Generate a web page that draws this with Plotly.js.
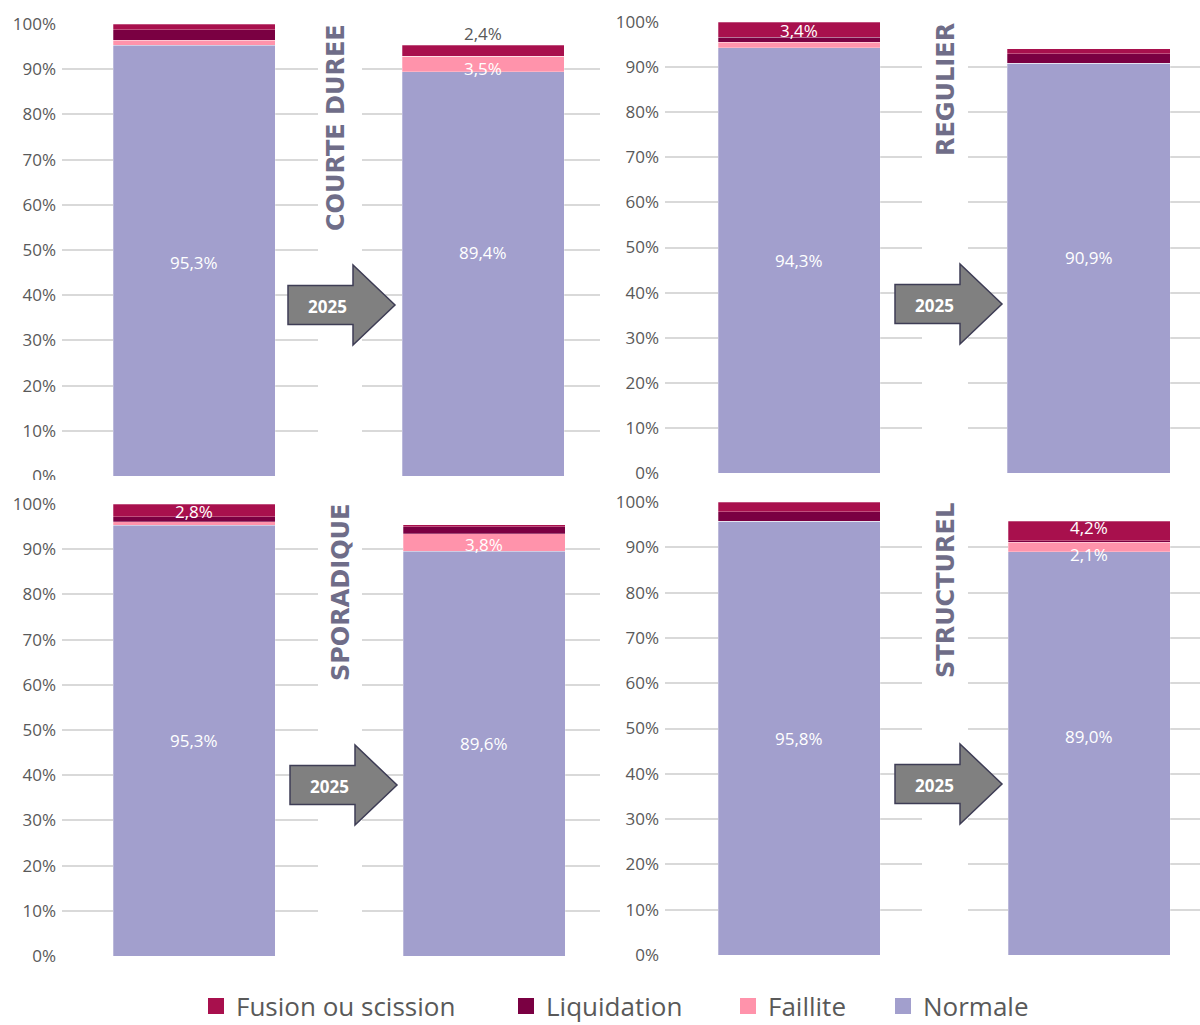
<!DOCTYPE html>
<html>
<head>
<meta charset="utf-8">
<script src="https://cdn.plot.ly/plotly-3.0.1.min.js"></script>
<style>html,body{margin:0;padding:0;background:#fff;overflow:hidden;}#chart{width:1200px;height:1025px;}</style>
</head>
<body>
<div id="chart"></div>
<script>
// ---- DATA ----
const panelTitles = ['COURTE DUREE', 'REGULIER', 'SPORADIQUE', 'STRUCTUREL'];
const arrowLabel = '2025';
const seriesNames = ['Normale', 'Faillite', 'Liquidation', 'Fusion ou scission'];
const legendOrder = ['Fusion ou scission', 'Liquidation', 'Faillite', 'Normale'];
// 8 bars: [panel1 avant, panel1 2025, panel2 avant, panel2 2025, ...]
const normale     = [95.3, 89.4, 94.3, 90.9, 95.3, 89.6, 95.8, 89.0];
const faillite    = [1.1, 3.5, 1.2, 0.0, 0.8, 3.8, 0.0, 2.1];
const liquidation = [2.3, 0.0, 1.1, 2.1, 1.1, 1.6, 2.1, 0.4];
const fusion      = [1.3, 2.4, 3.4, 1.1, 2.8, 0.4, 2.1, 4.2];
// which values carry a data label
const showNormaleLabel  = [true, true, true, true, true, true, true, true];
const showFailliteLabel = [false, true, false, false, false, true, false, true];
const showFusionLabel   = [false, true, true, false, true, false, false, true];
const fusionLabelOutside = [false, true, false, false, false, false, false, false];
const yTicks = [0,10,20,30,40,50,60,70,80,90,100];

// ---- STYLE / LAYOUT CONSTANTS ----
const W = 1200, H = 1025;
const px = x => x / W;
const py = y => 1 - y / H;
const colors = {Normale:'#A29FCD', Faillite:'#FF93AB', Liquidation:'#7A0042', 'Fusion ou scission':'#A8104D'};
const xDomPx = [[62,318],[362,600],[665,922],[968,1200],[62,318],[362,600],[665,922],[968,1200]];
const barPx  = [[113,275],[402,564],[718,880],[1007,1170],[113,275],[403,565],[718,880],[1008,1170]];
const yDomPx = [[24,476],[24,476],[22,473],[22,473],[504,956],[504,956],[502,955],[502,955]];
const normShift = [-2, 21, 0, 11, 0, 10, 0, 17];
const failShift = [0, -4, 0, 0, 0, -2, 0, -7];
const fusShift  = [0, -2, -1, 0, -1, 0, 0, 3];
const titlePos = [[336,128],[946,90],[341,593],[946,591]];
const arrowPos = [[288,305],[895,304],[290,785],[895,784]];
const legendMarkerX = [216, 526, 748, 903];
const font = 'Open Sans, Noto Sans, sans-serif';

const seriesVals = {Normale: normale, Faillite: faillite, Liquidation: liquidation, 'Fusion ou scission': fusion};
const traces = [];
const layout = {
  width: W, height: H,
  margin: {l:0, r:0, t:0, b:0, autoexpand:false},
  paper_bgcolor: '#fff', plot_bgcolor: 'rgba(0,0,0,0)',
  barmode: 'stack',
  showlegend: true,
  annotations: [], shapes: []
};

for (let i = 0; i < 8; i++) {
  const sfx = i === 0 ? '' : String(i + 1);
  const [a, b] = xDomPx[i];
  const [bl, br] = barPx[i];
  const c = (bl + br) / 2;
  const span = b - a;
  const width = (br - bl) / span;
  layout['xaxis' + sfx] = {
    domain: [px(a), px(b)], anchor: 'y' + sfx,
    range: [-(c - a) / span, (b - c) / span],
    showticklabels: false, showgrid: false, zeroline: false, showline: false, ticks: '', fixedrange: true
  };
  layout['yaxis' + sfx] = {
    domain: [py(yDomPx[i][1]), py(yDomPx[i][0])], anchor: 'x' + sfx,
    range: [0, 100], tickvals: yTicks, ticktext: yTicks.map(v => v + '%'),
    showticklabels: i % 2 === 0, ticks: '', ticklabelstandoff: 5,
    tickfont: {family: font, size: 17, color: '#595959'},
    showgrid: true, gridcolor: '#D9D9D9', gridwidth: 2, zeroline: false, showline: false, fixedrange: true
  };
  let base = 0;
  seriesNames.forEach(name => {
    const v = seriesVals[name][i];
    traces.push({
      type: 'bar', x: [0], y: [v], width: [width], name: name,
      xaxis: 'x' + sfx, yaxis: 'y' + sfx,
      marker: {color: colors[name], line: {color: 'rgba(255,255,255,0.45)', width: 0.6}},
      showlegend: false, hoverinfo: 'skip'
    });
    const fmt = v.toFixed(1).replace('.', ',') + '%';
    const mid = base + v / 2;
    if (name === 'Normale' && showNormaleLabel[i]) {
      layout.annotations.push({xref:'x'+sfx, yref:'y'+sfx, x:0, y:mid, text:fmt, showarrow:false,
        xanchor:'center', yanchor:'middle', yshift:normShift[i], font:{family:font, size:17, color:'#FFFFFF'}});
    }
    if (name === 'Faillite' && showFailliteLabel[i]) {
      layout.annotations.push({xref:'x'+sfx, yref:'y'+sfx, x:0, y:mid, text:fmt, showarrow:false,
        xanchor:'center', yanchor:'middle', yshift:failShift[i], font:{family:font, size:17, color:'#FFFFFF'}});
    }
    if (name === 'Fusion ou scission' && showFusionLabel[i]) {
      if (fusionLabelOutside[i]) {
        layout.annotations.push({xref:'x'+sfx, yref:'y'+sfx, x:0, y:base + v, text:fmt, showarrow:false,
          xanchor:'center', yanchor:'bottom', yshift:fusShift[i], font:{family:font, size:17, color:'#595959'}});
      } else {
        layout.annotations.push({xref:'x'+sfx, yref:'y'+sfx, x:0, y:mid, text:fmt, showarrow:false,
          xanchor:'center', yanchor:'middle', yshift:fusShift[i], font:{family:font, size:17, color:'#FFFFFF'}});
      }
    }
    base += v;
  });
}

// legend entries (square markers), one legend per item for exact placement
legendOrder.forEach((name, k) => {
  const lid = k === 0 ? 'legend' : 'legend' + (k + 1);
  traces.push({type:'scatter', mode:'markers', x:[null], y:[null], name:name, xaxis:'x', yaxis:'y',
    legend: lid, marker:{symbol:'square', size:16, color:colors[name]}, showlegend:true, hoverinfo:'skip'});
  layout[lid] = {orientation:'h', x:px(legendMarkerX[k] - 20), xanchor:'left', y:py(1006), yanchor:'middle',
    font:{family:font, size:26, color:'#595959'}, itemwidth:30, bgcolor:'rgba(0,0,0,0)', borderwidth:0};
});

// white band clipping the lower half of the top panels' 0% labels
layout.shapes.push({type:'rect', xref:'paper', yref:'paper', x0:0, x1:1, y0:py(492), y1:py(480),
  fillcolor:'#FFFFFF', line:{width:0}, layer:'above'});

// panel titles
panelTitles.forEach((t, k) => {
  layout.annotations.push({xref:'paper', yref:'paper', x:px(titlePos[k][0]), y:py(titlePos[k][1]),
    xanchor:'center', yanchor:'middle',
    text:'<b>' + t + '</b>', textangle:-90, showarrow:false,
    font:{family:'DejaVu Sans, sans-serif', size:24, color:'#6F6D88'}});
});

// arrows
arrowPos.forEach(([L, cy]) => {
  const pts = [[L, cy-19.5],[L+65, cy-19.5],[L+65, cy-40],[L+107, cy],[L+65, cy+40],[L+65, cy+19.5],[L, cy+19.5]];
  const path = 'M' + pts.map(p => px(p[0]) + ',' + py(p[1])).join(' L') + ' Z';
  layout.shapes.push({type:'path', xref:'paper', yref:'paper', path:path,
    fillcolor:'#808080', line:{color:'#3E3D55', width:1.5}, layer:'above'});
  layout.annotations.push({xref:'paper', yref:'paper', x:px(L+39.5), y:py(cy+1), xanchor:'center', yanchor:'middle',
    text:'<b>' + arrowLabel + '</b>', showarrow:false, font:{family:font, size:17, color:'#FFFFFF'}});
});

Plotly.newPlot('chart', traces, layout, {displayModeBar:false, staticPlot:true});
</script>
</body>
</html>
